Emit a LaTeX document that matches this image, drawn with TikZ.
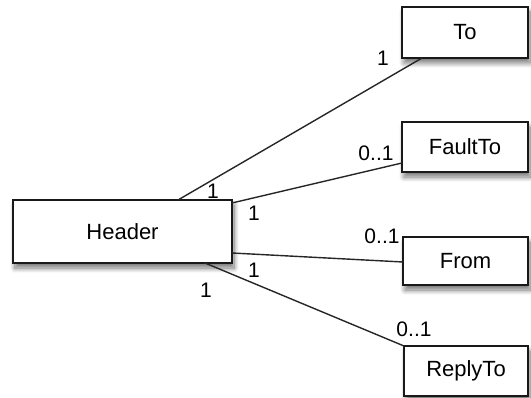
\documentclass[tikz,border=0pt]{standalone}
\usepackage{fontspec}
\setmainfont{Liberation Sans}
\usetikzlibrary{shadows,shadows.blur}
\begin{document}
\begin{tikzpicture}[x=1pt,y=-1pt,
  cls/.style={draw=black!90, line width=1.6pt, fill=white, inner sep=0pt,
    blur shadow={shadow xshift=2pt, shadow yshift=-5pt, shadow blur radius=5pt,
      shadow blur steps=10, shadow opacity=55},
    font=\fontsize{22}{24}\selectfont},
  conn/.style={draw=black!85, line width=1.4pt},
  mult/.style={font=\fontsize{21}{23}\selectfont, inner sep=0pt}]
\useasboundingbox (0,0) rectangle (531,398);
\node[cls, minimum width=219pt, minimum height=63pt] (header) at (122.5,231.5) {Header};
\node[cls, minimum width=126pt, minimum height=51pt] (to) at (465,32.5) {To};
\node[cls, minimum width=126pt, minimum height=50pt] (faultto) at (465,147) {FaultTo};
\node[cls, minimum width=125pt, minimum height=48pt] (from) at (465.5,261) {From};
\node[cls, minimum width=124pt, minimum height=50pt] (replyto) at (466,371) {ReplyTo};
\coordinate (h1) at (178,200);
\coordinate (h2) at (232,203);
\coordinate (h3) at (232,253);
\coordinate (h4) at (205,263);
\coordinate (t1) at (422,58);
\coordinate (t2) at (402,163);
\coordinate (t3) at (403,262);
\coordinate (t4) at (404,346);
\draw[conn] (h1) -- (t1);
\draw[conn] (h2) -- (t2);
\draw[conn] (h3) -- (t3);
\draw[conn] (h4) -- (t4);
\node[mult] (m1) at (383,58) {1};
\node[mult] (m2) at (213,191) {1};
\node[mult] (m3) at (376,153) {0..1};
\node[mult] (m4) at (254,213) {1};
\node[mult] (m5) at (382,236) {0..1};
\node[mult] (m6) at (254,270) {1};
\node[mult] (m7) at (206,290) {1};
\node[mult] (m8) at (414,329) {0..1};
\end{tikzpicture}
\end{document}
